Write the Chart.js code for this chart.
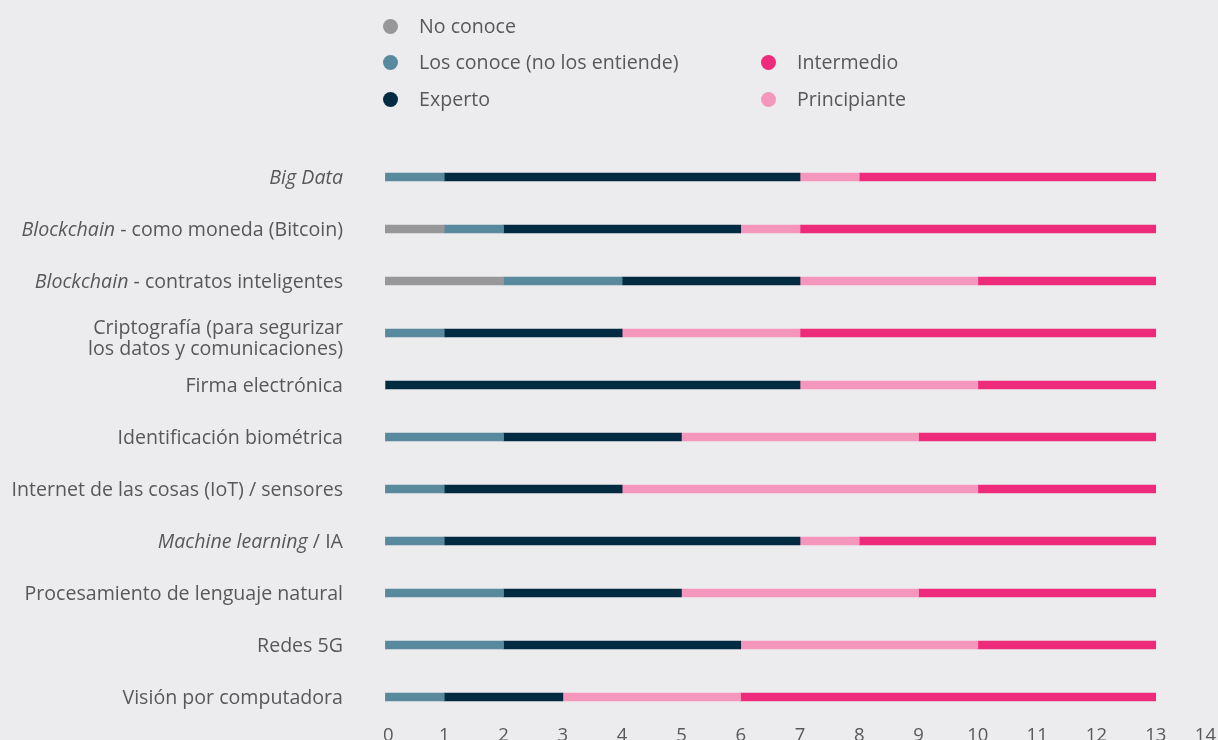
<!DOCTYPE html>
<html>
<head>
<meta charset="utf-8">
<script src="https://cdn.jsdelivr.net/npm/chart.js@4"></script>
<style>
	body { margin: 0; background: #ececee; font-family: "Open Sans", sans-serif; }
	#wrap { position: relative; width: 1218px; height: 740px; }
	.leg { position: absolute; font-size: 19.6px; color: #58585a; line-height: 20px; white-space: nowrap; }
	.leg span { position: absolute; left: -36px; top: 3px; width: 15px; height: 15px; border-radius: 50%; }
</style>
</head>
<body>
<div id="wrap">
	<canvas id="skillsChart" width="1218" height="740"></canvas>
</div>
<script>
const categories = [
	'Big Data',
	'Blockchain - como moneda (Bitcoin)',
	'Blockchain - contratos inteligentes',
	['Criptografía (para segurizar', 'los datos y comunicaciones)'],
	'Firma electrónica',
	'Identificación biométrica',
	'Internet de las cosas (IoT) / sensores',
	'Machine learning / IA',
	'Procesamiento de lenguaje natural',
	'Redes 5G',
	'Visión por computadora'
];
// part of each label set in italics
const italicParts = ['Big Data', 'Blockchain', 'Blockchain', '', '', '', '', 'Machine learning', '', '', ''];

const noConoce     = [0, 1, 2, 0, 0, 0, 0, 0, 0, 0, 0];
const losConoce    = [1, 1, 2, 1, 0, 2, 1, 1, 2, 2, 1];
const experto      = [6, 4, 3, 3, 7, 3, 3, 6, 3, 4, 2];
const principiante = [1, 1, 3, 3, 3, 4, 6, 1, 4, 4, 3];
const intermedio   = [5, 6, 3, 6, 3, 4, 3, 5, 4, 3, 7];

const xTicks = [0, 1, 2, 3, 4, 5, 6, 7, 8, 9, 10, 11, 12, 13, 14];

const series = [
	{ label: 'No conoce', data: noConoce, color: '#97979a' },
	{ label: 'Los conoce (no los entiende)', data: losConoce, color: '#58899c' },
	{ label: 'Experto', data: experto, color: '#022a40' },
	{ label: 'Principiante', data: principiante, color: '#f597bd' },
	{ label: 'Intermedio', data: intermedio, color: '#ee2a7b' }
];

// legend laid out in two columns like the original
const legendSpots = {
	'No conoce': [419, 16],
	'Los conoce (no los entiende)': [419, 52],
	'Experto': [419, 89],
	'Intermedio': [797, 52],
	'Principiante': [797, 89]
};
const wrap = document.getElementById('wrap');
series.forEach(s => {
	const d = document.createElement('div');
	d.className = 'leg';
	d.style.left = legendSpots[s.label][0] + 'px';
	d.style.top = legendSpots[s.label][1] + 'px';
	d.innerHTML = '<span style="background:' + s.color + '"></span>' + s.label;
	wrap.appendChild(d);
});

const textColor = '#58585a';
const labelFont = '19.6px "Open Sans", sans-serif';
const labelFontItalic = 'italic 19.6px "Open Sans", sans-serif';

const axisLabelsPlugin = {
	id: 'axisLabels',
	afterDraw(chart) {
		const ctx = chart.ctx;
		const yScale = chart.scales.y;
		const xScale = chart.scales.x;
		const right = 343;
		ctx.save();
		ctx.fillStyle = textColor;
		ctx.textBaseline = 'middle';
		ctx.textAlign = 'left';
		categories.forEach((cat, i) => {
			const y = yScale.getPixelForValue(i) + 1;
			if (Array.isArray(cat)) {
				ctx.font = labelFont;
				cat.forEach((line, j) => {
					const w = ctx.measureText(line).width;
					ctx.fillText(line, right - w, y - 6 + j * 21);
				});
				return;
			}
			const it = italicParts[i];
			const rest = cat.slice(it.length);
			ctx.font = labelFontItalic;
			const wi = it ? ctx.measureText(it).width : 0;
			ctx.font = labelFont;
			const wr = ctx.measureText(rest).width;
			let x = right - wi - wr;
			if (it) {
				ctx.font = labelFontItalic;
				ctx.fillText(it, x, y);
				x += wi;
			}
			ctx.font = labelFont;
			ctx.fillText(rest, x, y);
		});

		// x tick labels, kept inside the canvas at the right edge
		ctx.font = '18.5px "Open Sans", sans-serif';
		ctx.textAlign = 'center';
		const yt = chart.chartArea.bottom + 13;
		xTicks.forEach(v => {
			const txt = String(v);
			const w = ctx.measureText(txt).width;
			let x = xScale.getPixelForValue(v);
			x = Math.max(x, w / 2 + 383);
			x = Math.min(x, chart.width - 2 - w / 2);
			ctx.fillText(txt, x, yt);
		});
		ctx.restore();
	}
};

new Chart(document.getElementById('skillsChart').getContext('2d'), {
	type: 'bar',
	data: {
		labels: categories,
		datasets: series.map(s => ({
			label: s.label,
			data: s.data,
			backgroundColor: s.color,
			barThickness: 8,
			borderWidth: 0
		}))
	},
	options: {
		indexAxis: 'y',
		responsive: false,
		animation: false,
		layout: { padding: { top: 151, right: 3, left: 0, bottom: 0 } },
		plugins: {
			legend: { display: false },
			tooltip: { enabled: false }
		},
		scales: {
			x: {
				stacked: true,
				min: 0,
				max: 14,
				afterBuildTicks: s => { s.ticks = xTicks.map(v => ({ value: v })); },
				grid: { display: false, drawTicks: false },
				border: { display: false },
				ticks: { display: false },
				afterFit: s => { s.height = 17; s.paddingRight = 0; s.paddingLeft = 0; }
			},
			y: {
				stacked: true,
				grid: { display: false },
				border: { display: false },
				ticks: { display: false },
				afterFit: s => { s.width = 385; }
			}
		}
	},
	plugins: [axisLabelsPlugin]
});
</script>
</body>
</html>
